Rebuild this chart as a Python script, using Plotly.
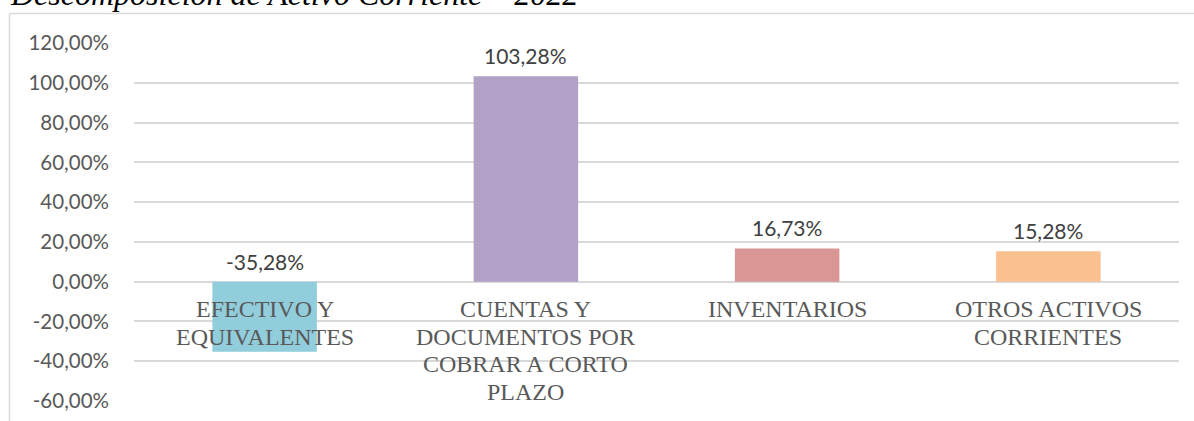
import plotly.graph_objects as go

categories = ["EFECTIVO Y<br>EQUIVALENTES",
              "CUENTAS Y<br>DOCUMENTOS POR<br>COBRAR A CORTO<br>PLAZO",
              "INVENTARIOS",
              "OTROS ACTIVOS<br>CORRIENTES"]
values = [-35.28, 103.28, 16.73, 15.28]
value_labels = ["-35,28%", "103,28%", "16,73%", "15,28%"]
colors = ["#92CDDC", "#B2A1C7", "#D99694", "#FAC090"]
title_text = "Descomposición de Activo Corriente – 2022"
y_ticks = [-60, -40, -20, 0, 20, 40, 60, 80, 100, 120]
y_tick_labels = ["-60,00%", "-40,00%", "-20,00%", "0,00%", "20,00%", "40,00%",
                 "60,00%", "80,00%", "100,00%", "120,00%"]

W, H = 1194, 421
L, R, T, B = 134, 15, 43, 20
pw, ph = W - L - R, H - T - B

fig = go.Figure()
fig.add_trace(go.Bar(
    x=list(range(len(categories))), y=values,
    marker=dict(color=colors, line=dict(width=0)),
    hoverinfo="skip",
))

annotations = []
# data labels
for i, (v, lab) in enumerate(zip(values, value_labels)):
    annotations.append(dict(
        x=i, y=max(v, 0), xref="x", yref="y", text=lab, showarrow=False,
        yanchor="bottom", xanchor="center", yshift=6,
        font=dict(family="Lato", size=21, color="#404040"),
    ))
# category labels (per line, Excel-like spacing)
for i, cat in enumerate(categories):
    for j, line in enumerate(cat.split("<br>")):
        annotations.append(dict(
            x=i, y=0, xref="x", yref="y", text=line, showarrow=False,
            yanchor="top", xanchor="center", yshift=-12.5 - j * 27.5,
            font=dict(family="Liberation Serif", size=24, color="#595959"),
        ))
# title (cut off at top)
annotations.append(dict(
    x=(8 - L) / pw, y=(H - B - 14) / ph, xref="paper", yref="paper",
    text="<i>" + title_text + "</i>", showarrow=False,
    xanchor="left", yanchor="bottom",
    font=dict(family="Liberation Serif", size=32, color="#000000"),
))

shapes = [
    dict(type="line", xref="paper", yref="paper",
         x0=(9.5 - L) / pw, x1=(9.5 - L) / pw, y0=-0.2, y1=(H - B - 13.5) / ph,
         line=dict(color="#D9D9D9", width=1.5)),
    dict(type="line", xref="paper", yref="paper",
         x0=(9.5 - L) / pw, x1=(W + 10 - L) / pw,
         y0=(H - B - 13.5) / ph, y1=(H - B - 13.5) / ph,
         line=dict(color="#D9D9D9", width=1.5)),
]

fig.update_layout(
    width=W, height=H,
    margin=dict(l=L, r=R, t=T, b=B, pad=0),
    paper_bgcolor="white", plot_bgcolor="white",
    showlegend=False, bargap=0.6,
    annotations=annotations, shapes=shapes,
    xaxis=dict(range=[-0.5, len(categories) - 0.5], showticklabels=False,
               showgrid=False, zeroline=False, showline=False, ticks=""),
    yaxis=dict(range=[-60, 120], tickvals=y_ticks, ticktext=y_tick_labels,
               showgrid=True, gridcolor="#D9D9D9", gridwidth=1.5,
               zeroline=True, zerolinecolor="#D9D9D9", zerolinewidth=1.5,
               showline=False, ticks="", ticklabelstandoff=24, automargin=False,
               tickfont=dict(family="Lato", size=20.5, color="#595959")),
)

fig.write_html("out.html", config={"displayModeBar": False},
               post_script="document.body.style.margin='0';")
